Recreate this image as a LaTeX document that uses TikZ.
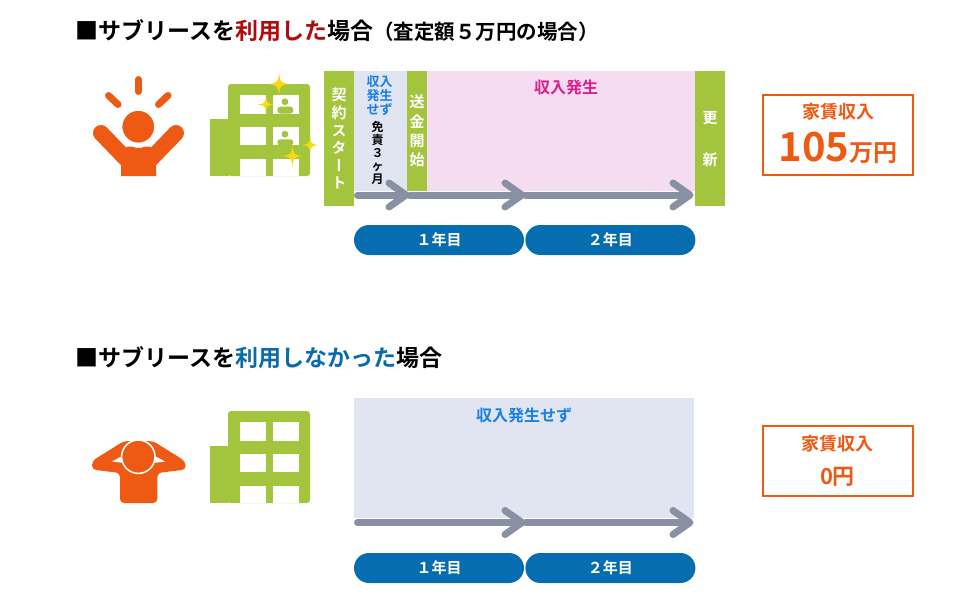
\documentclass[tikz,border=0pt]{standalone}
\usepackage{fontspec}
\usepackage{xcolor}
\usepackage{tikz}
\usetikzlibrary{arrows.meta, positioning}
\setmainfont{Noto Sans CJK JP}[BoldFont={Noto Sans CJK JP Bold}]
\newfontfamily\vertfont{Noto Sans CJK JP Bold}[RawFeature=+vert]
\definecolor{iconorange}{HTML}{EE5A14}
\definecolor{leafgreen}{HTML}{A3C43D}
\definecolor{panelblue}{HTML}{E1E5F1}
\definecolor{panelpink}{HTML}{F5DCF1}
\definecolor{arrowgray}{HTML}{8791A3}
\definecolor{pillblue}{HTML}{066DB0}
\definecolor{skyblue}{HTML}{1A7FE0}
\definecolor{hotpink}{HTML}{D6218E}
\definecolor{titlered}{HTML}{B00A0A}
\definecolor{titleblue}{HTML}{0A6BAB}
\definecolor{sparkyellow}{HTML}{F6D90F}
\newcommand{\fsz}[2]{\fontsize{#1}{#2}\selectfont}
\tikzset{
  pics/building/.style={code={
    \fill[leafgreen, rounded corners=3pt] (228,0) -- (228,-92) -- (310,-92) -- (310,0) -- cycle;
    \fill[leafgreen] (210,0) rectangle (229,-57.5);
    \foreach \wx in {239.5,272.5} {
      \fill[white] (\wx,-81) rectangle ++(26,18.5);
      \fill[white] (\wx,-49.3) rectangle ++(26,18.5);
      \fill[white] (\wx,-16.7) rectangle ++(26,16.7);
    }
  }},
  pics/sparkle/.style={code={
    \fill[sparkyellow] (0,-#1) .. controls (0.8,-1.5) and (1.5,-0.8) .. (#1,0)
      .. controls (1.5,0.8) and (0.8,1.5) .. (0,#1)
      .. controls (-0.8,1.5) and (-1.5,0.8) .. (-#1,0)
      .. controls (-1.5,-0.8) and (-0.8,-1.5) .. (0,-#1) -- cycle;
  }}
}
\begin{document}
\begin{tikzpicture}[
  x=1pt, y=-1pt,
  node distance=0pt and 0pt,
  heading/.style={anchor=west, inner sep=0pt, font=\bfseries\fsz{23}{26}},
  bar/.style={rectangle, fill=leafgreen, text=white, inner sep=0pt, align=center, anchor=north west},
  panel/.style={rectangle, inner sep=0pt, anchor=north west},
  pill/.style={rectangle, fill=pillblue, text=white, rounded corners=15pt, minimum width=170pt,
               minimum height=30pt, inner sep=0pt, font=\bfseries\fsz{15}{17}},
  arr/.style={line width=7pt, arrowgray, line cap=round,
              -{Straight Barb[round, length=17pt, width=24pt, line width=7pt]}},
  money/.style={rectangle, draw=iconorange, line width=2pt, fill=white, inner sep=0pt, anchor=north west},
  limbs/.style={iconorange, line width=16pt, line cap=round},
  ray/.style={iconorange, line width=7pt, line cap=round},
]
  \useasboundingbox (0,0) rectangle (980,600);

  % top case
  \node[heading] (titleA) at (75,31) {■サブリースを\textcolor{titlered}{利用した}場合{\fsz{20.5}{26}（査定額５万円の場合）}};

  \draw[ray] (138.3,79.5) -- (138.3,91.5);
  \draw[ray] (108.5,95.5) -- (118,104.5);
  \draw[ray] (168,95.5) -- (158.5,104.5);
  \draw[limbs] (101,133) -- (128,161);
  \draw[limbs] (176,133) -- (149,161);
  \fill[iconorange] (121,176) -- (121,158) -- (127,146.5) -- (132,146.5) .. controls (136,148.5) and (141,148.5) .. (145,146.5)
    -- (150,146.5) -- (156,158) -- (156,176) -- cycle;
  \fill[iconorange, draw=white, line width=1.5pt] (138.3,126.7) circle (16.7);

  \pic at (0,176) {building};
  \fill[leafgreen] (285,101.7) circle (3.4);
  \fill[leafgreen] (285,134.2) circle (3.4);
  \fill[leafgreen, rounded corners=3pt] (277.3,113.5) -- (277.3,106.7) -- (293.3,106.7) -- (293.3,113.5) -- cycle;
  \fill[leafgreen, rounded corners=3pt] (277.3,145.5) -- (277.3,139.3) -- (293.3,139.3) -- (293.3,145.5) -- cycle;
  \pic at (279,84) {sparkle=12};
  \pic at (266,104.5) {sparkle=8};
  \pic at (310,145) {sparkle=8};
  \pic at (292.3,156) {sparkle=11};

  \node[panel, fill=panelblue, minimum width=53pt, minimum height=120pt] (free) at (354,71) {};
  \node[panel, fill=panelpink, minimum width=268pt, minimum height=120pt] (paid) at (427,71) {};
  \node[bar, minimum width=30pt, minimum height=135pt, font=\vertfont\fsz{15}{17.6}] (start) at (324,71) {契\\約\\ス\\タ\\ー\\ト};
  \node[bar, minimum width=20pt, minimum height=120pt, font=\bfseries\fsz{15}{19.3}] (send) at (407,71) {送\\金\\開\\始};
  \node[bar, minimum width=30pt, minimum height=135pt, font=\bfseries\fsz{15}{42}] (renew) at (695,71) {更\\新};
  \node[inner sep=0pt, align=center, text=skyblue, font=\bfseries\fsz{13}{14.2}, below=4pt of free.north, xshift=-1pt] (nopay) {収入\\発生\\せず};
  \node[inner sep=0pt, align=center, text=black, font=\bfseries\fsz{12}{12.8}, below=50.5pt of free.north, xshift=-3pt] (exempt) {免\\責\\３\\ヶ\\月};
  \node[inner sep=0pt, text=hotpink, font=\bfseries\fsz{16}{18}, below=9pt of paid.north, xshift=5pt] (pay) {収入発生};

  \coordinate (a0) at (357.5,195);
  \coordinate (a1) at (409.5,195);
  \coordinate (a2) at (525.5,195);
  \coordinate (a3) at (693.5,195);
  \draw[arr] (a0) -- (a1);
  \draw[arr] (a1) -- (a2);
  \draw[arr] (a2) -- (a3);

  \node[pill] (yearA) at (439,240) {１年目};
  \node[pill, right=1pt of yearA] (yearB) {２年目};

  \node[money, minimum width=150pt, minimum height=80pt] (incomeA) at (762,93.5) {};
  \node[inner sep=0pt, text=iconorange, font=\bfseries\fsz{18}{20}, below=9.5pt of incomeA.north] (labelA) {家賃収入};
  \node[inner sep=0pt, text=iconorange, font=\bfseries\fsz{40}{44}, below=12pt of labelA] (sumA) {105\fsz{24}{26}万円};

  % bottom case
  \node[heading] (titleB) at (75,358) {■サブリースを\textcolor{titleblue}{利用しなかった}場合};

  \fill[iconorange, rounded corners=4pt] (120,473) -- (120,503) -- (157.3,503) -- (157.3,473) -- (186,469.5)
    -- (185,461) -- (153,441) -- (124,441) -- (92,461) -- (92,469.5) -- cycle;
  \fill[white] (112,461.5) -- (124,455) -- (124,463) -- cycle;
  \fill[white] (165,461.5) -- (153,455) -- (153,463) -- cycle;
  \fill[iconorange, draw=white, line width=1.5pt] (138.3,456.7) circle (16.7);

  \pic at (0,503) {building};

  \node[panel, fill=panelblue, minimum width=340pt, minimum height=120pt] (none) at (354,398) {};
  \node[inner sep=0pt, text=skyblue, font=\bfseries\fsz{16}{18}, below=10pt of none.north] (nopayB) {収入発生せず};

  \coordinate (b0) at (357.5,522.5);
  \coordinate (b1) at (525.5,522.5);
  \coordinate (b2) at (693.5,522.5);
  \draw[arr] (b0) -- (b1);
  \draw[arr] (b1) -- (b2);

  \node[pill] (yearC) at (439,568) {１年目};
  \node[pill, right=1pt of yearC] (yearD) {２年目};

  \node[money, minimum width=150pt, minimum height=70pt] (incomeB) at (761.5,425) {};
  \node[inner sep=0pt, text=iconorange, font=\bfseries\fsz{18}{20}, below=9.5pt of incomeB.north] (labelB) {家賃収入};
  \node[inner sep=0pt, text=iconorange, font=\bfseries\fsz{22}{24}, below=15pt of labelB] (sumB) {0円};
\end{tikzpicture}
\end{document}
